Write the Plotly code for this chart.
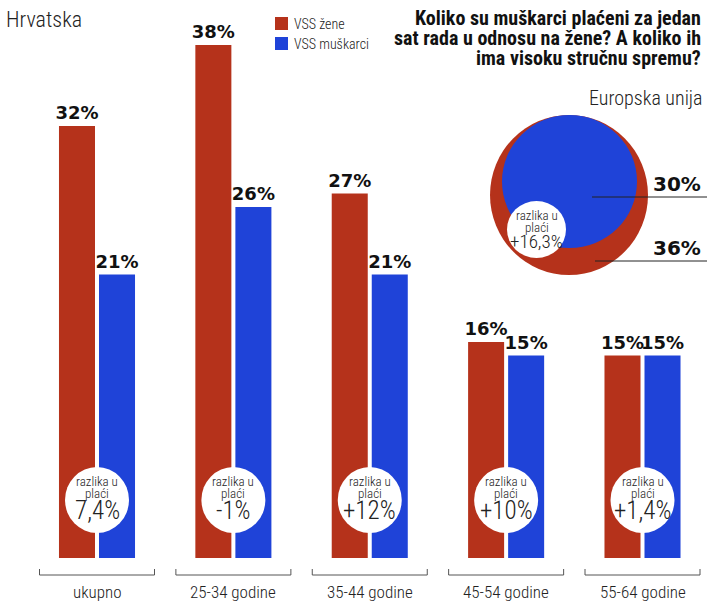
import plotly.graph_objects as go

# ---- data ----
categories = ["ukupno", "25-34 godine", "35-44 godine", "45-54 godine", "55-64 godine"]
zene = [32, 38, 27, 16, 15]
muskarci = [21, 26, 21, 15, 15]
razlika = ["7,4%", "-1%", "+12%", "+10%", "+1,4%"]
series_names = ["VSS žene", "VSS muškarci"]
eu_zene = 36
eu_muskarci = 30
eu_razlika = "+16,3%"

RED = "#b5321b"
BLUE = "#1f43d8"
W, H = 707, 602
ML, MR, MT, MB = 20, 5, 18, 44
PW, PH = W - ML - MR, H - MT - MB
YMAX = 40

COND = "Liberation Sans Narrow, Roboto Condensed, DejaVu Sans Condensed, Roboto, sans-serif"
HEAVY = "DejaVu Sans, Lato, sans-serif"


def px(x):
    return (x - ML) / PW


def py(y):
    return (H - MB - y) / PH


def dy(y):
    return (H - MB - y) / PH * YMAX


def ann(x, y, text, size, family=COND, xref="paper", yref="paper", xanchor="center",
        color="#222", weight="normal"):
    return dict(x=x, y=y, xref=xref, yref=yref, text=text, showarrow=False,
                xanchor=xanchor, yanchor="middle",
                font=dict(family=family, size=size, color=color, weight=weight))


fig = go.Figure()
for vals, nm, col in [(zene, series_names[0], RED), (muskarci, series_names[1], BLUE)]:
    fig.add_trace(go.Bar(x=categories, y=vals, name=nm, marker_color=col,
                         marker_line_width=0,
                         text=[f"{v}%" for v in vals], textposition="outside",
                         constraintext="none",
                         textfont=dict(family=HEAVY, size=18, color="#111", weight="bold"),
                         cliponaxis=False))

shapes = []
annotations = []
SCALE = 136.375  # px per category
xr0 = (ML - 97) / SCALE
xr1 = (W - MR - 97) / SCALE

for i, cat in enumerate(categories):
    rx = 32 / SCALE
    shapes.append(dict(type="circle", xref="x", yref="y", x0=i - rx, x1=i + rx,
                       y0=dy(533), y1=dy(467), fillcolor="white", line_width=0, layer="above"))
    annotations.append(ann(i, dy(481), "razlika u", 13, xref="x", yref="y", weight=300))
    annotations.append(ann(i, dy(493), "plaći", 13, xref="x", yref="y", weight=300))
    annotations.append(ann(i, dy(510), razlika[i], 25, xref="x", yref="y", weight=300))
    bw = 57.5 / SCALE
    shapes.append(dict(type="path", xref="x", yref="paper",
                       path=f"M {i - bw},{py(569)} L {i - bw},{py(575)} L {i + bw},{py(575)} L {i + bw},{py(569)}",
                       line=dict(color="#555", width=1)))
    annotations.append(ann(i, py(592), cat, 17, xref="x", weight=300))

# legend (custom)
for j, (nm, col) in enumerate(zip(series_names, [RED, BLUE])):
    y0 = 17 + j * 20
    shapes.append(dict(type="rect", xref="paper", yref="paper", x0=px(275), x1=px(288),
                       y0=py(y0 + 13), y1=py(y0), fillcolor=col, line_width=0))
    annotations.append(ann(px(292), py(y0 + 6.5), nm, 14, xanchor="left", weight=300))

# EU circles
shapes.append(dict(type="circle", xref="paper", yref="paper", x0=px(490), x1=px(648),
                   y0=py(275), y1=py(115), fillcolor=RED, line_width=0, layer="above"))
shapes.append(dict(type="circle", xref="paper", yref="paper", x0=px(502), x1=px(637),
                   y0=py(248), y1=py(115), fillcolor=BLUE, line_width=0, layer="above"))
shapes.append(dict(type="circle", xref="paper", yref="paper", x0=px(507), x1=px(566),
                   y0=py(258), y1=py(201), fillcolor="white", line_width=0, layer="above"))
shapes.append(dict(type="line", xref="paper", yref="paper", x0=px(592), x1=px(707),
                   y0=py(197), y1=py(197), line=dict(color="#222", width=1), layer="above"))
shapes.append(dict(type="line", xref="paper", yref="paper", x0=px(595), x1=px(707),
                   y0=py(261), y1=py(261), line=dict(color="#222", width=1), layer="above"))
annotations.append(ann(px(703), py(184), f"{eu_muskarci}%", 20, family=HEAVY, xanchor="right",
                       color="#111", weight="bold"))
annotations.append(ann(px(703), py(248), f"{eu_zene}%", 20, family=HEAVY, xanchor="right",
                       color="#111", weight="bold"))
annotations.append(ann(px(536.5), py(215), "razlika u", 13, weight=300))
annotations.append(ann(px(536.5), py(227), "plaći", 13, weight=300))
annotations.append(ann(px(536.5), py(241), eu_razlika, 19, weight=300))

# titles
annotations.append(ann(px(4), py(20), "Hrvatska", 22, xanchor="left", weight=300))
annotations.append(ann(px(705), py(98), "Europska unija", 20, xanchor="right", weight=300))
title_lines = ["Koliko su muškarci plaćeni za jedan",
               "sat rada u odnosu na žene? A koliko ih",
               "ima visoku stručnu spremu?"]
for k, t in enumerate(title_lines):
    annotations.append(ann(px(703), py(18 + k * 20), t, 20, xanchor="right",
                           color="#111", weight="bold"))

fig.update_layout(
    width=W, height=H, autosize=False,
    margin=dict(l=ML, r=MR, t=MT, b=MB),
    paper_bgcolor="white", plot_bgcolor="white",
    barmode="group", bargap=0.413, bargroupgap=0.1,
    showlegend=False,
    xaxis=dict(range=[xr0, xr1], showticklabels=False, showgrid=False, zeroline=False,
               showline=False, ticks=""),
    yaxis=dict(range=[0, YMAX], visible=False),
    shapes=shapes, annotations=annotations,
)
fig.write_html("out.html", config={"displayModeBar": False},
               post_script="document.body.style.margin='0';document.body.style.overflow='hidden';")
